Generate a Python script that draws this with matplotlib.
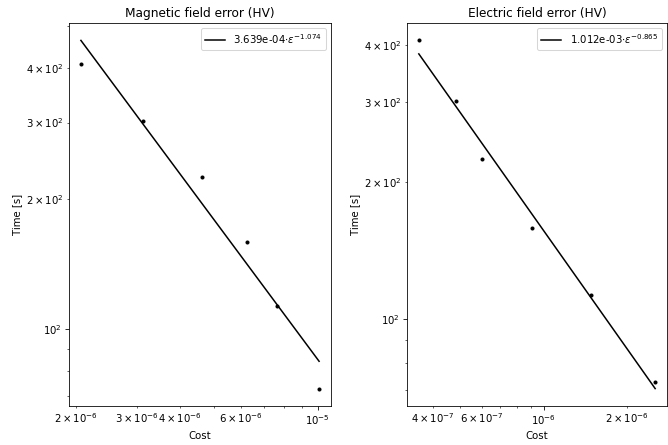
import numpy as np
import matplotlib
matplotlib.use("Agg")
import matplotlib.pyplot as plt

# measured run times (same for both fields)
time_s = [410, 302, 225, 159, 113, 73]

# costs for the magnetic and electric field error targets
cost_mag = [2.065e-6, 3.13e-6, 4.63e-6, 6.25e-6, 7.65e-6, 1.01e-5]
cost_ele = [3.56e-7, 4.83e-7, 6.0e-7, 9.08e-7, 1.485e-6, 2.52e-6]

# fitted power laws: time = a * cost^b
fit_mag = (3.639e-4, -1.074)
fit_ele = (1.012e-3, -0.865)

titles = ["Magnetic field error (HV)", "Electric field error (HV)"]


def panel(ax, cost, t, fit, title):
    a, b = fit
    xs = np.array([min(cost), max(cost)])
    ax.loglog(cost, t, "k.")
    ax.loglog(xs, a * xs**b, "k-",
              label="%.3e$\\cdot\\varepsilon^{%.3f}$" % (a, b))
    ax.set_title(title)
    ax.set_xlabel("Cost")
    ax.set_ylabel("Time [s]")
    ax.legend(loc="upper right")


DPI = 73
fig = plt.figure(figsize=(668 / DPI, 445 / DPI), dpi=DPI)
ax1 = fig.add_axes([69 / 668, 1 - 406 / 445, 262 / 668, 383 / 445])
ax2 = fig.add_axes([407 / 668, 1 - 406 / 445, 260 / 668, 383 / 445])

panel(ax1, cost_mag, time_s, fit_mag, titles[0])
panel(ax2, cost_ele, time_s, fit_ele, titles[1])

fig.savefig("out.png", dpi=DPI)
